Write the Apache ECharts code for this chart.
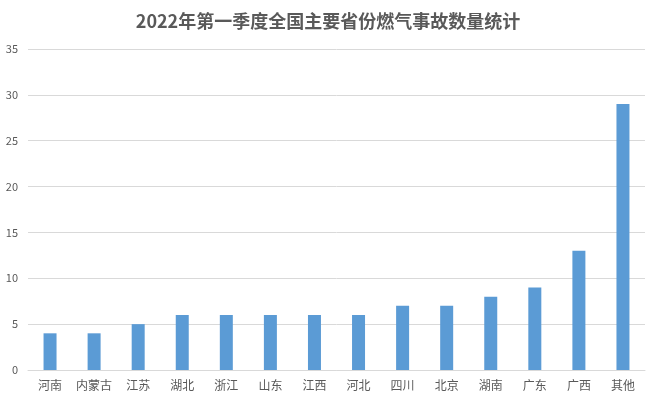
<!DOCTYPE html>
<html><head><meta charset="utf-8">
<script src="https://cdn.jsdelivr.net/npm/echarts@6/dist/echarts.min.js"></script>
<style>html,body{margin:0;padding:0;background:#fff}#c{width:656px;height:401px}</style>
</head><body><div id="c"></div>
<script>
var titleText = '2022年第一季度全国主要省份燃气事故数量统计';
var categories = ['河南','内蒙古','江苏','湖北','浙江','山东','江西','河北','四川','北京','湖南','广东','广西','其他'];
var values = [4,4,5,6,6,6,6,6,7,7,8,9,13,29];
var yMin = 0, yMax = 35, yStep = 5;
var font = '"Microsoft YaHei","Noto Sans CJK SC",sans-serif';
var chart = echarts.init(document.getElementById('c'));
chart.setOption({
  animation:false,
  title:{text:titleText,left:'center',top:7,textStyle:{fontFamily:font,fontSize:18,fontWeight:'bold',color:'#595959'}},
  grid:{left:28,right:11,top:49,bottom:31},
  xAxis:{type:'category',data:categories,axisTick:{show:false},
    axisLine:{lineStyle:{color:'#d9d9d9'}},
    axisLabel:{color:'#595959',fontFamily:font,fontSize:12,margin:9,interval:0}},
  yAxis:{type:'value',min:yMin,max:yMax,interval:yStep,
    axisLine:{show:false},axisTick:{show:false},
    splitLine:{lineStyle:{color:'#d9d9d9'}},
    axisLabel:{color:'#595959',fontFamily:font,fontSize:11,margin:10}},
  series:[{type:'bar',data:values,barWidth:13,itemStyle:{color:'#5b9bd5'}}]
});
</script></body></html>
